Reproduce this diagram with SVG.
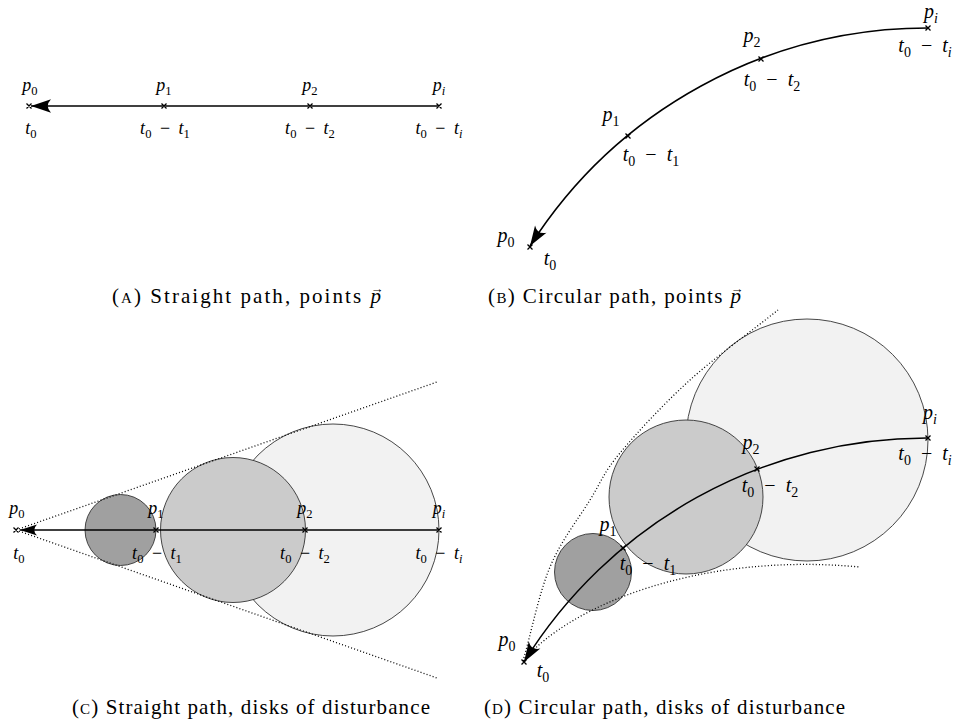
<svg xmlns="http://www.w3.org/2000/svg" width="956" height="724" viewBox="0 0 956 724" font-family="'Liberation Serif','DejaVu Serif',serif">
<style>
text{font-family:"Liberation Serif","DejaVu Serif",serif;fill:#000}
.m{font-style:italic;text-anchor:middle}
.a{font-size:18px}
.b{font-size:20px}
.s{font-style:normal;font-size:70%}
.si{font-style:italic;font-size:70%}
.n{font-style:normal}
.cap{font-size:21px}
.sc{font-size:15px}
.vec{font-size:13px;text-anchor:middle;font-style:normal}
.path{fill:none;stroke:#000;stroke-width:1.5}
.x{fill:none;stroke:#000;stroke-width:1.3}
.dot{fill:none;stroke:#000;stroke-width:1.3;stroke-dasharray:1 2.2}
.disk{stroke:#333;stroke-width:0.9}
.d1{fill:#a0a0a0}.d2{fill:#cbcbcb}.d3{fill:#f2f2f2}
</style>
<defs>
<marker id="arr" markerUnits="userSpaceOnUse" markerWidth="30" markerHeight="30" viewBox="-25 -15 30 30" refX="0" refY="0" orient="auto" overflow="visible">
<path d="M0,0 L-20,-6.8 Q-13.5,0 -20,6.8 Z" fill="#000"/>
</marker>
<marker id="arrs" markerUnits="userSpaceOnUse" markerWidth="30" markerHeight="30" viewBox="-25 -15 30 30" refX="0" refY="0" orient="auto" overflow="visible">
<path d="M0,0 L-17,-5.5 Q-11.5,0 -17,5.5 Z" fill="#000"/>
</marker>
</defs>

<g id="disks-c">
<circle class="disk d3" cx="333" cy="530" r="106"/>
<circle class="disk d2" cx="233" cy="530" r="72.5"/>
<circle class="disk d1" cx="120.5" cy="530" r="35.5"/>
</g>
<g id="disks-d">
<circle class="disk d3" cx="807" cy="440" r="121"/>
<circle class="disk d2" cx="686" cy="497" r="77"/>
<circle class="disk d1" cx="593" cy="572" r="38.5"/>
</g>

<g id="connectors">
<path class="path" d="M439,106 L31,106" marker-end="url(#arr)"/>
<path class="path" d="M928,28 A472,472 0 0 0 530,246" marker-end="url(#arr)"/>
<path class="dot" d="M16,530 L437,382 M16,530 L437,678"/>
<path class="path" d="M439,530 L20,530" marker-end="url(#arrs)"/>
<path class="dot" d="M523,661 C532,630 538.8,593.8 550,567 C561.2,540.2 578.3,519 590,500 C601.7,481 603.3,473 620,453 C636.7,433 663.7,403.8 690,380 C716.3,356.2 748.7,333.3 778,310"/>
<path class="dot" d="M523,661 C570,605 700,552 860,567"/>
<path class="path" d="M928,438 A474,474 0 0 0 524,662" marker-end="url(#arr)"/>
</g>

<g id="points">
<path class="x" d="M26.5,103.5l5,5m0,-5l-5,5 M161.5,103.5l5,5m0,-5l-5,5 M307.5,103.5l5,5m0,-5l-5,5 M436.5,103.5l5,5m0,-5l-5,5"/>
<path class="x" d="M925.5,25.5l5,5m0,-5l-5,5 M758.5,56.5l5,5m0,-5l-5,5 M625.5,133.5l5,5m0,-5l-5,5 M527.5,244.5l5,5m0,-5l-5,5"/>
<path class="x" d="M13.5,527.5l5,5m0,-5l-5,5 M153.5,527.5l5,5m0,-5l-5,5 M302.5,527.5l5,5m0,-5l-5,5 M436.5,527.5l5,5m0,-5l-5,5"/>
<path class="x" d="M925.5,435.5l5,5m0,-5l-5,5 M754.5,466.5l5,5m0,-5l-5,5 M620.5,545.5l5,5m0,-5l-5,5 M521.5,659.5l5,5m0,-5l-5,5"/>
</g>

<g id="labels-a">
<text class="m a" x="30" y="91">p<tspan class="s" dy="4">0</tspan></text>
<text class="m a" x="164" y="91">p<tspan class="s" dy="4">1</tspan></text>
<text class="m a" x="310" y="91">p<tspan class="s" dy="4">2</tspan></text>
<text class="m a" x="439" y="91">p<tspan class="si" dy="4">i</tspan></text>
<text class="m a" x="31" y="134">t<tspan class="s" dy="4">0</tspan></text>
<text class="m a" x="165" y="134">t<tspan class="s" dy="4">0</tspan><tspan class="n" dx="8.5" dy="-4">−</tspan><tspan dx="8.5">t</tspan><tspan class="s" dy="4">1</tspan></text>
<text class="m a" x="310" y="134">t<tspan class="s" dy="4">0</tspan><tspan class="n" dx="8.5" dy="-4">−</tspan><tspan dx="8.5">t</tspan><tspan class="s" dy="4">2</tspan></text>
<text class="m a" x="439" y="134">t<tspan class="s" dy="4">0</tspan><tspan class="n" dx="8.5" dy="-4">−</tspan><tspan dx="8.5">t</tspan><tspan class="si" dy="4">i</tspan></text>
</g>

<g id="labels-b">
<text class="m b" x="931" y="18">p<tspan class="si" dy="4.5">i</tspan></text>
<text class="m b" x="925" y="52">t<tspan class="s" dy="4.5">0</tspan><tspan class="n" dx="10" dy="-4.5">−</tspan><tspan dx="10">t</tspan><tspan class="si" dy="4.5">i</tspan></text>
<text class="m b" x="752" y="42">p<tspan class="s" dy="4.5">2</tspan></text>
<text class="m b" x="772" y="86">t<tspan class="s" dy="4.5">0</tspan><tspan class="n" dx="10" dy="-4.5">−</tspan><tspan dx="10">t</tspan><tspan class="s" dy="4.5">2</tspan></text>
<text class="m b" x="611" y="121">p<tspan class="s" dy="4.5">1</tspan></text>
<text class="m b" x="651" y="161">t<tspan class="s" dy="4.5">0</tspan><tspan class="n" dx="10" dy="-4.5">−</tspan><tspan dx="10">t</tspan><tspan class="s" dy="4.5">1</tspan></text>
<text class="m b" x="506" y="242">p<tspan class="s" dy="4.5">0</tspan></text>
<text class="m b" x="550" y="265">t<tspan class="s" dy="4.5">0</tspan></text>
</g>

<g id="labels-c">
<text class="m a" x="17" y="514">p<tspan class="s" dy="4">0</tspan></text>
<text class="m a" x="156" y="514">p<tspan class="s" dy="4">1</tspan></text>
<text class="m a" x="305" y="514">p<tspan class="s" dy="4">2</tspan></text>
<text class="m a" x="439" y="514">p<tspan class="si" dy="4">i</tspan></text>
<text class="m a" x="19" y="559">t<tspan class="s" dy="4">0</tspan></text>
<text class="m a" x="157" y="559">t<tspan class="s" dy="4">0</tspan><tspan class="n" dx="8.5" dy="-4">−</tspan><tspan dx="8.5">t</tspan><tspan class="s" dy="4">1</tspan></text>
<text class="m a" x="305" y="559">t<tspan class="s" dy="4">0</tspan><tspan class="n" dx="8.5" dy="-4">−</tspan><tspan dx="8.5">t</tspan><tspan class="s" dy="4">2</tspan></text>
<text class="m a" x="439" y="559">t<tspan class="s" dy="4">0</tspan><tspan class="n" dx="8.5" dy="-4">−</tspan><tspan dx="8.5">t</tspan><tspan class="si" dy="4">i</tspan></text>
</g>

<g id="labels-d">
<text class="m b" x="930" y="419">p<tspan class="si" dy="4.5">i</tspan></text>
<text class="m b" x="925" y="460">t<tspan class="s" dy="4.5">0</tspan><tspan class="n" dx="10" dy="-4.5">−</tspan><tspan dx="10">t</tspan><tspan class="si" dy="4.5">i</tspan></text>
<text class="m b" x="751" y="449">p<tspan class="s" dy="4.5">2</tspan></text>
<text class="m b" x="770" y="492">t<tspan class="s" dy="4.5">0</tspan><tspan class="n" dx="10" dy="-4.5">−</tspan><tspan dx="10">t</tspan><tspan class="s" dy="4.5">2</tspan></text>
<text class="m b" x="608" y="531">p<tspan class="s" dy="4.5">1</tspan></text>
<text class="m b" x="648" y="570">t<tspan class="s" dy="4.5">0</tspan><tspan class="n" dx="10" dy="-4.5">−</tspan><tspan dx="10">t</tspan><tspan class="s" dy="4.5">1</tspan></text>
<text class="m b" x="507" y="646">p<tspan class="s" dy="4.5">0</tspan></text>
<text class="m b" x="543" y="677">t<tspan class="s" dy="4.5">0</tspan></text>
</g>

<g id="captions">
<text class="cap" x="112" y="303" textLength="269" lengthAdjust="spacing">(<tspan class="sc">A</tspan>) Straight path, points <tspan font-style="italic">p</tspan></text>
<text class="vec" x="377" y="293">→</text>
<text class="cap" x="488" y="303" textLength="253" lengthAdjust="spacing">(<tspan class="sc">B</tspan>) Circular path, points <tspan font-style="italic">p</tspan></text>
<text class="vec" x="737" y="293">→</text>
<text class="cap" x="72" y="714" textLength="358" lengthAdjust="spacing">(<tspan class="sc">C</tspan>) Straight path, disks of disturbance</text>
<text class="cap" x="484" y="714" textLength="361" lengthAdjust="spacing">(<tspan class="sc">D</tspan>) Circular path, disks of disturbance</text>
</g>
</svg>
